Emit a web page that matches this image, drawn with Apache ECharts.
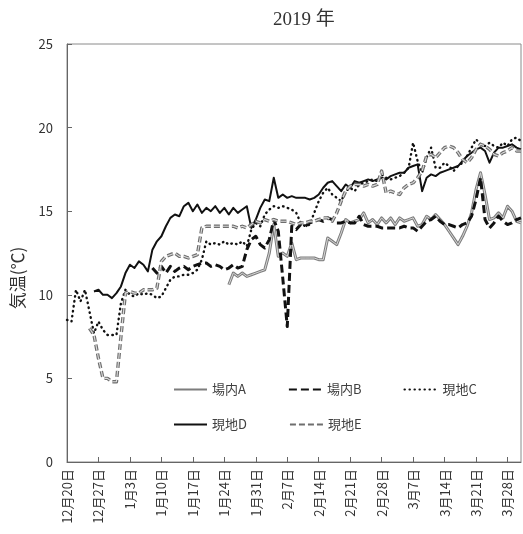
<!DOCTYPE html>
<html>
<head>
<meta charset="utf-8">
<script src="https://cdn.jsdelivr.net/npm/echarts@6/dist/echarts.min.js"></script>
<style>
html,body{margin:0;padding:0;background:#fff;}
#chart{width:523px;height:534px;}
</style>
</head>
<body>
<div id="chart"></div>
<script>
// Category labels: daily from 12/20 to 3/31
const startMonth = 12, startDay = 20, dayCount = 102;
const categories = [];
(function(){
  const d = new Date(2018, startMonth - 1, startDay);
  for (let i = 0; i < dayCount; i++) {
    categories.push((d.getMonth() + 1) + '月' + d.getDate() + '日');
    d.setDate(d.getDate() + 1);
  }
})();

const yTicks = [0, 5, 10, 15, 20, 25];
const seriesNames = ['場内A', '場内B', '現地C', '現地D', '現地E'];

const N = null;
const valuesA = [
  N,N,N,N,N,N,N,N,N,N, N,N,N,N,N,N,N,N,N,N,
  N,N,N,N,N,N,N,N,N,N, N,N,N,N,N,N,10.6,11.3,11.1,11.3,
  11.1,11.2,11.3,11.4,11.5,12.5,14.2,12.3,12.5,12.3,
  13.1,12.1,12.2,12.2,12.2,12.2,12.1,12.1,13.4,13.2,
  13.0,13.7,14.5,14.3,14.4,14.5,14.9,14.3,14.5,14.2,
  14.6,14.3,14.6,14.2,14.6,14.4,14.5,14.6,14.1,14.2,
  14.7,14.5,14.8,14.5,14.2,13.8,13.4,13.0,13.5,14.1,
  14.9,16.3,17.3,16.0,14.5,14.6,14.9,14.6,15.3,15.0,
  14.4,14.3
];
const valuesB = [
  N,N,N,N,N,N,N,N,N,N, N,N,N,N,N,N,N,N,N,11.6,
  11.3,11.7,11.3,11.7,11.4,11.6,11.7,11.5,11.7,11.8,
  11.9,11.9,11.7,11.8,11.7,11.5,11.6,11.8,11.6,11.7,
  12.7,13.3,13.5,13.0,12.8,13.3,14.5,13.8,11.0,8.1,
  14.1,13.9,14.2,14.1,14.3,14.4,14.5,14.4,14.6,14.5,
  14.3,14.3,14.4,14.3,14.3,14.7,14.2,14.1,14.1,14.1,
  14.0,14.0,14.0,14.0,14.0,14.1,14.0,14.0,13.8,14.1,
  14.4,14.5,14.7,14.4,14.2,14.2,14.1,14.0,14.2,14.3,
  14.7,15.7,17.0,14.5,14.0,14.3,14.7,14.4,14.2,14.3,
  14.5,14.6
];
const valuesC = [
  8.5,8.4,10.3,9.6,10.3,9.0,7.7,8.4,7.9,7.6,
  7.6,7.6,9.5,10.3,10.0,9.9,10.1,10.0,10.1,10.0,
  9.8,9.9,10.4,10.9,11.1,11.1,11.2,11.2,11.3,11.5,
  12.1,13.2,13.0,13.1,13.0,13.2,13.0,13.1,13.0,13.2,
  12.9,13.9,14.3,14.1,14.8,15.1,15.3,15.2,15.3,15.2,
  15.1,14.9,14.3,14.1,14.2,14.9,15.6,16.1,16.4,16.0,
  15.8,15.6,16.2,16.4,16.2,16.6,16.7,16.8,16.9,16.8,
  17.2,17.0,16.9,17.0,17.1,17.3,17.6,19.1,18.0,17.3,
  18.2,18.8,17.6,17.6,17.9,17.7,17.4,17.7,17.9,18.3,
  18.8,19.3,19.0,18.9,19.1,18.9,18.8,19.1,18.9,19.3,
  19.4,19.2
];
const valuesD = [
  N,N,N,N,N,N,10.2,10.3,10.0,10.0,
  9.8,10.1,10.5,11.3,11.8,11.6,12.0,11.8,11.4,12.7,
  13.2,13.5,14.1,14.6,14.8,14.7,15.3,15.5,15.0,15.4,
  14.9,15.2,15.0,15.3,14.9,15.2,14.8,15.2,14.9,15.1,
  15.3,14.0,14.5,15.2,15.7,15.6,17.0,15.8,16.0,15.8,
  15.9,15.8,15.8,15.8,15.7,15.8,16.0,16.4,16.7,16.8,
  16.5,16.2,16.6,16.4,16.8,16.7,16.8,16.9,16.8,16.9,
  17.0,16.9,17.1,17.2,17.3,17.3,17.6,17.7,17.8,16.2,
  17.0,17.2,17.1,17.3,17.4,17.5,17.6,17.7,18.0,18.3,
  18.5,18.7,18.8,18.6,17.9,18.5,18.8,18.8,18.9,19.0,
  18.8,18.7
];
const valuesE = [
  N,N,N,N,N,8.0,7.6,6.2,5.0,5.0,
  4.8,4.8,7.5,10.1,10.2,10.1,10.1,10.3,10.3,10.3,
  10.4,12.0,12.3,12.4,12.5,12.3,12.3,12.2,12.3,12.4,
  14.0,14.1,14.1,14.1,14.1,14.1,14.1,14.1,14.0,14.1,
  14.0,14.2,14.4,14.3,14.5,14.4,14.5,14.4,14.4,14.4,
  14.3,14.2,14.3,14.3,14.4,14.4,14.5,14.6,14.6,14.4,
  14.9,15.6,16.2,16.5,16.6,16.6,16.5,16.6,16.5,16.6,
  17.4,16.1,16.2,16.1,16.0,16.4,16.6,16.7,17.0,17.4,
  18.3,18.4,18.2,18.5,18.8,18.9,18.8,18.5,18.1,17.9,
  18.2,18.7,19.0,18.9,18.7,18.4,18.3,18.5,18.6,18.8,
  18.6,18.6
];

const chart = echarts.init(document.getElementById('chart'), null, {renderer: 'canvas'});
const sans = '"Noto Sans CJK JP", "Noto Sans", sans-serif';

function line(name, data, color, width, type, cap) {
  return {
    name: name, type: 'line', data: data, symbol: 'none', connectNulls: false,
    lineStyle: {color: color, width: width, type: type, cap: cap || 'butt', join: 'round'},
    itemStyle: {color: color},
    emphasis: {disabled: true}, silent: true, animation: false
  };
}

const legendText = {fontFamily: sans, fontSize: 13, color: '#404040'};
const legendCommon = {
  orient: 'horizontal', padding: 0,
  itemWidth: 33, itemHeight: 14, itemGap: 42,
  itemStyle: {color: 'transparent', borderColor: 'transparent', borderWidth: 0},
  textStyle: legendText, selectedMode: false
};

const option = {
  animation: false,
  backgroundColor: '#fff',
  title: {
    text: '2019 年', left: 299, top: 6, textAlign: 'center',
    textStyle: {fontFamily: '"Liberation Serif", "Noto Sans CJK JP", serif', fontSize: 19, fontWeight: 'normal', color: '#333'}
  },
  grid: {
    left: 67, right: 2, top: 44, bottom: 72,
    show: true, borderColor: '#8a8a8a', borderWidth: 1,
    outerBoundsMode: 'none'
  },
  legend: [
    Object.assign({data: ['場内A', '場内B', '現地C'], left: 173, top: 383}, legendCommon),
    Object.assign({data: ['現地D', '現地E'], left: 173, top: 418}, legendCommon)
  ],
  xAxis: {
    type: 'category', data: categories, boundaryGap: false,
    axisLine: {show: true, lineStyle: {color: '#666', width: 1}},
    axisTick: {show: true, inside: true, length: 5, interval: 6, alignWithLabel: true, lineStyle: {color: '#666'}},
    axisLabel: {interval: 6, rotate: 90, margin: 7, fontFamily: sans, fontSize: 13, color: '#333'},
    splitLine: {show: false}
  },
  yAxis: {
    type: 'value', min: 0, max: 25, interval: 5,
    axisLine: {show: true, lineStyle: {color: '#666', width: 1}},
    axisTick: {show: true, inside: true, length: 5, lineStyle: {color: '#666'}},
    axisLabel: {margin: 14, fontFamily: sans, fontSize: 13, color: '#333',
      formatter: function(v){ return yTicks.indexOf(v) >= 0 ? String(v) : ''; }},
    splitLine: {show: false}
  },
  graphic: [
    {
      type: 'text', x: 18, y: 278, rotation: Math.PI / 2,
      style: {text: '気温(℃)', fontFamily: sans, fontSize: 17, fill: '#333', align: 'center', verticalAlign: 'middle'}
    }
  ],
  series: [
    line(seriesNames[0], valuesA, '#7d7d7d', 3, 'solid'),
    line('A_inner', valuesA, '#d8d8d8', 1, 'solid'),
    line(seriesNames[1], valuesB, '#111', 3, [8, 4]),
    line(seriesNames[2], valuesC, '#111', 2.4, [0.5, 4.5], 'round'),
    line(seriesNames[3], valuesD, '#111', 2, 'solid'),
    line(seriesNames[4], valuesE, '#6e6e6e', 3.4, [6, 3]),
    line('E_inner', valuesE, '#dcdcdc', 1.1, [6, 3])
  ]
};
chart.setOption(option);
</script>
</body>
</html>
